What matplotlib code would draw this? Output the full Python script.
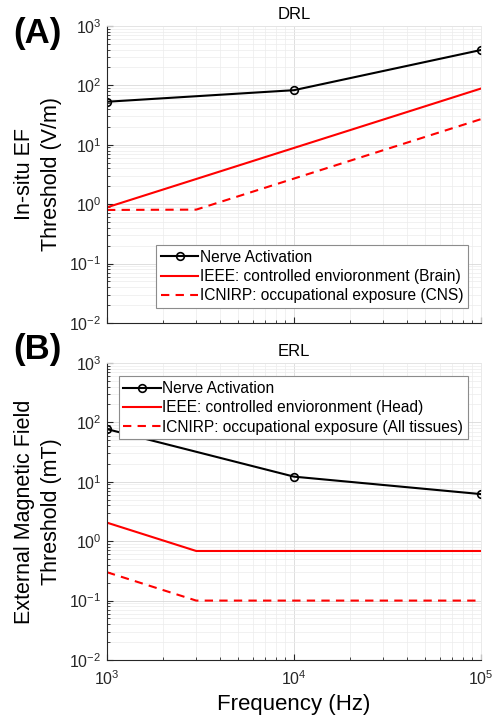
import numpy as np
import matplotlib
matplotlib.use("Agg")
import matplotlib.pyplot as plt
from matplotlib.ticker import LogLocator, NullFormatter

plt.rcParams['font.family'] = ['Liberation Sans', 'DejaVu Sans']
plt.rcParams['mathtext.fontset'] = 'custom'
plt.rcParams['mathtext.rm'] = 'Liberation Sans'

# data
# (A) DRL - in-situ electric field threshold (V/m)
drl_nerve_f = [1e3, 1e4, 1e5]
drl_nerve_v = [53, 83, 394]
drl_ieee_f = [1e3, 1e5]
drl_ieee_v = [0.885, 88.5]
drl_icnirp_f = [1e3, 3e3, 1e5]
drl_icnirp_v = [0.8, 0.81, 27]

# (B) ERL - external magnetic field threshold (mT)
erl_nerve_f = [1e3, 1e4, 1e5]
erl_nerve_v = [77, 12.2, 6.2]
erl_ieee_f = [1e3, 3e3, 1e5]
erl_ieee_v = [2.05, 0.684, 0.684]
erl_icnirp_f = [1e3, 3e3, 1e5]
erl_icnirp_v = [0.3, 0.1, 0.1]

yticks = [1e-2, 1e-1, 1e0, 1e1, 1e2, 1e3]
ytick_labels = [r'$10^{-2}$', r'$10^{-1}$', r'$10^{0}$', r'$10^{1}$', r'$10^{2}$', r'$10^{3}$']
xticks = [1e3, 1e4, 1e5]
xtick_labels = [r'$10^{3}$', r'$10^{4}$', r'$10^{5}$']

fig = plt.figure(figsize=(5.0, 7.21), dpi=100)
axA = fig.add_axes([0.214, 0.552, 0.748, 0.412])
axB = fig.add_axes([0.214, 0.0846, 0.748, 0.412])

dash = (0, (4, 3))


def style(ax, show_x):
    ax.set_xscale('log')
    ax.set_yscale('log')
    ax.set_xlim(1e3, 1e5)
    ax.set_ylim(1e-2, 1e3)
    ax.set_yticks(yticks)
    ax.set_yticklabels(ytick_labels)
    ax.yaxis.set_minor_locator(LogLocator(base=10, subs=np.arange(2, 10), numticks=20))
    ax.yaxis.set_minor_formatter(NullFormatter())
    ax.set_xticks(xticks)
    if show_x:
        ax.set_xticklabels(xtick_labels)
    else:
        ax.set_xticklabels([])
    ax.xaxis.set_minor_locator(LogLocator(base=10, subs=np.arange(2, 10), numticks=20))
    ax.xaxis.set_minor_formatter(NullFormatter())
    ax.grid(which='major', color='#d9d9d9', linewidth=0.6)
    ax.grid(which='minor', color='#ececec', linewidth=0.5)
    ax.set_axisbelow(True)
    for s in ['top', 'right']:
        ax.spines[s].set_color('#e6e6e6')
        ax.spines[s].set_linewidth(0.6)
    for s in ['left', 'bottom']:
        ax.spines[s].set_color('#262626')
        ax.spines[s].set_linewidth(0.8)
    ax.tick_params(which='both', direction='in', top=False, right=False,
                   colors='#262626', labelsize=11.5)
    ax.tick_params(axis='y', pad=4)
    ax.tick_params(axis='x', pad=7)
    ax.tick_params(which='major', length=4)
    ax.tick_params(which='minor', length=2.5)


# Panel A
axA.plot(drl_nerve_f, drl_nerve_v, color='black', lw=1.5, marker='o',
         markersize=5.5, markerfacecolor='none', markeredgewidth=1.2,
         label='Nerve Activation')
axA.plot(drl_ieee_f, drl_ieee_v, color='red', lw=1.5,
         label='IEEE: controlled envioronment (Brain)')
axA.plot(drl_icnirp_f, drl_icnirp_v, color='red', lw=1.5, linestyle=dash,
         label='ICNIRP: occupational exposure (CNS)')
style(axA, False)
axA.set_title('DRL', fontsize=12, pad=5)
axA.set_ylabel('In-situ EF\nThreshold (V/m)', fontsize=15.5, va='center',
               linespacing=1.35)
axA.yaxis.set_label_coords(-0.185, 0.5)
legA = axA.legend(loc='lower right', bbox_to_anchor=(0.965, 0.05),
                  fontsize=11.2, handlelength=2.4, handletextpad=0.1,
                  labelspacing=0.28, borderpad=0.3, borderaxespad=0.0,
                  fancybox=False, framealpha=1, edgecolor='#8c8c8c')
legA.get_frame().set_linewidth(0.8)

# Panel B
axB.plot(erl_nerve_f, erl_nerve_v, color='black', lw=1.5, marker='o',
         markersize=5.5, markerfacecolor='none', markeredgewidth=1.2,
         label='Nerve Activation')
axB.plot(erl_ieee_f, erl_ieee_v, color='red', lw=1.5,
         label='IEEE: controlled envioronment (Head)')
axB.plot(erl_icnirp_f, erl_icnirp_v, color='red', lw=1.5, linestyle=dash,
         label='ICNIRP: occupational exposure (All tissues)')
style(axB, True)
axB.set_title('ERL', fontsize=12, pad=5)
axB.set_xlabel('Frequency (Hz)', fontsize=16, labelpad=4)
axB.set_ylabel('External Magnetic Field\nThreshold (mT)', fontsize=15.5,
               va='center', linespacing=1.35)
axB.yaxis.set_label_coords(-0.185, 0.5)
legB = axB.legend(loc='upper right', bbox_to_anchor=(0.965, 0.955),
                  fontsize=11.2, handlelength=2.4, handletextpad=0.1,
                  labelspacing=0.28, borderpad=0.3, borderaxespad=0.0,
                  fancybox=False, framealpha=1, edgecolor='#8c8c8c')
legB.get_frame().set_linewidth(0.8)

# panel letters
fig.text(37 / 500, 1 - 33 / 721, '(A)', fontsize=25, fontweight='bold',
         ha='center', va='center')
fig.text(37 / 500, 1 - 350 / 721, '(B)', fontsize=25, fontweight='bold',
         ha='center', va='center')

fig.savefig('out.png', dpi=100)
